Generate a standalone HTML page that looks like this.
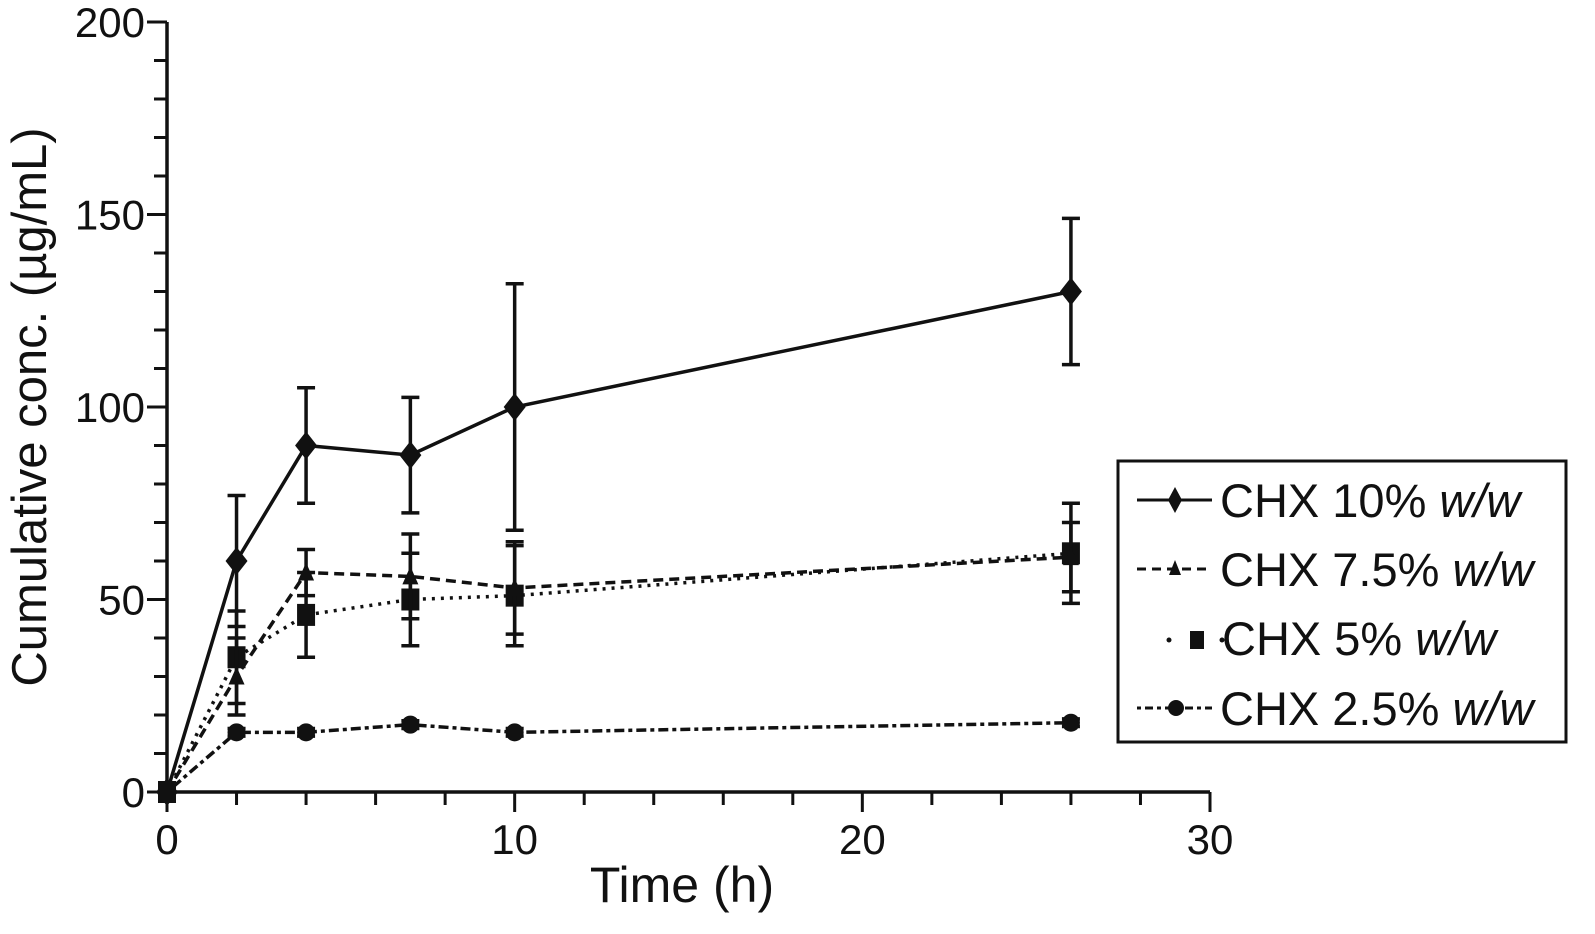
<!DOCTYPE html>
<html><head><meta charset="utf-8"><style>
html,body{margin:0;padding:0;background:#fff;}
svg text{font-family:"Liberation Sans",Arial,sans-serif;fill:#111;}
</style></head><body>
<svg id="chart" width="1595" height="929" viewBox="0 0 1595 929" xmlns="http://www.w3.org/2000/svg">
<g id="axes"></g>
<g id="series"></g>
<text x="682" y="902" font-size="50" text-anchor="middle">Time (h)</text>
<text transform="translate(46,407) rotate(-90)" font-size="49" text-anchor="middle">Cumulative conc. (µg/mL)</text>
<g>
<rect x="1118" y="461" width="448" height="281" fill="none" stroke="#111" stroke-width="3"/>
<g>
<line x1="1137" y1="500" x2="1212" y2="500" stroke="#111" stroke-width="3"/>
<path d="M1175 487 L1182 500 L1175 513 L1168 500Z" fill="#111"/>
<text x="1220" y="517" font-size="47">CHX 10% <tspan font-style="italic">w/w</tspan></text></g>
<g>
<line x1="1137" y1="569" x2="1212" y2="569" stroke="#111" stroke-width="3" stroke-dasharray="9,6"/>
<path d="M1175 560 L1181 575 L1169 575Z" fill="#111"/>
<text x="1220" y="586" font-size="47">CHX 7.5% <tspan font-style="italic">w/w</tspan></text></g>
<g>
<circle cx="1169" cy="640" r="2.5" fill="#111"/><circle cx="1222" cy="640" r="2.5" fill="#111"/>
<rect x="1190" y="631" width="14" height="18" fill="#111"/>
<text x="1222" y="655" font-size="47">CHX 5% <tspan font-style="italic">w/w</tspan></text></g>
<g>
<line x1="1137" y1="708" x2="1212" y2="708" stroke="#111" stroke-width="3" stroke-dasharray="4,4,8,4"/>
<circle cx="1176" cy="708" r="8" fill="#111"/>
<text x="1220" y="725" font-size="47">CHX 2.5% <tspan font-style="italic">w/w</tspan></text></g>
</g>
</svg>
<script>
const times = [0, 2, 4, 7, 10, 26];
const chx10 = [0, 60, 90, 87.5, 100, 130];
const chx10Err = [0, 17, 15, 15, 32, 19];
const chx75 = [0, 30, 57, 56, 53, 61];
const chx75Err = [0, 10, 6, 11, 12, 9];
const chx5 = [0, 35, 46, 50, 51, 62];
const chx5Err = [0, 12, 11, 12, 13, 13];
const chx25 = [0, 15.5, 15.5, 17.5, 15.5, 18];
const chx25Err = [0, 1, 1, 1, 1, 1];
const xTicks = [0, 10, 20, 30];
const yTicks = [0, 50, 100, 150, 200];

const NS = "http://www.w3.org/2000/svg";
const X0 = 167, X1 = 1210, Y0 = 792, Y1 = 22;
function xs(v){ return X0 + (v/30)*(X1-X0); }
function ys(v){ return Y0 - (v/200)*(Y0-Y1); }
function mk(tag, attrs, parent){
  const e = document.createElementNS(NS, tag);
  for (const k in attrs) e.setAttribute(k, attrs[k]);
  parent.appendChild(e); return e;
}
const axes = document.getElementById('axes');
const yAxis = mk('line', {x1:X0, y1:Y1, x2:X0, y2:Y0, stroke:'#111','stroke-width':3.5}, axes);


const xAxis = mk('line', {x1:X0, y1:Y0, x2:X1, y2:Y0, stroke:'#111','stroke-width':3.5}, axes);


for (let v=0; v<=30; v+=2){
  const major = v%10===0;
  mk('line', {x1:xs(v), y1:Y0, x2:xs(v), y2:Y0+(major?20:13), stroke:'#111','stroke-width':3}, axes);
}
for (let v=0; v<=200; v+=10){
  const major = v%50===0;
  mk('line', {x1:X0-(major?20:13), y1:ys(v), x2:X0, y2:ys(v), stroke:'#111','stroke-width':3}, axes);
}
xTicks.forEach(v=>{
  const t = mk('text', {x:xs(v), y:Y0+62, 'font-size':42, 'text-anchor':'middle'}, axes);
  
  
  t.textContent = v;
});
yTicks.forEach(v=>{
  const t = mk('text', {x:X0-22, y:ys(v)+15, 'font-size':42, 'text-anchor':'end'}, axes);
  
  
  t.textContent = v;
});

const sg = document.getElementById('series');
function drawSeries(name, vals, errs, dash, marker){
  const g = mk('g', {}, sg);
  
  
  vals.forEach((v,i)=>{
    if (!errs[i]) return;
    const x = xs(times[i]), yt = ys(v+errs[i]), yb = ys(v-errs[i]);
    mk('line', {x1:x, y1:yt, x2:x, y2:yb, stroke:'#111','stroke-width':3.5}, g);
    mk('line', {x1:x-9, y1:yt, x2:x+9, y2:yt, stroke:'#111','stroke-width':3.5}, g);
    mk('line', {x1:x-9, y1:yb, x2:x+9, y2:yb, stroke:'#111','stroke-width':3.5}, g);
  });
  const pts = vals.map((v,i)=>xs(times[i])+','+ys(v)).join(' ');
  const pl = mk('polyline', {points:pts, fill:'none', stroke:'#111','stroke-width':3.5}, g);
  if (dash) pl.setAttribute('stroke-dasharray', dash);
  vals.forEach((v,i)=>{
    const x = xs(times[i]), y = ys(v);
    let m;
    if (marker==='diamond') m = mk('path', {d:`M${x} ${y-14} L${x+11} ${y} L${x} ${y+14} L${x-11} ${y}Z`, fill:'#111'}, g);
    else if (marker==='triangle') m = mk('path', {d:`M${x} ${y-10} L${x+8} ${y+8} L${x-8} ${y+8}Z`, fill:'#111'}, g);
    else if (marker==='square') m = mk('rect', {x:x-9, y:y-11, width:18, height:22, fill:'#111'}, g);
    else m = mk('circle', {cx:x, cy:y, r:9, fill:'#111'}, g);
    
    
  });
}
drawSeries('series-chx-2-5', chx25, chx25Err, '4,4,10,4', 'circle');
drawSeries('series-chx-5', chx5, chx5Err, '3,6', 'square');
drawSeries('series-chx-7-5', chx75, chx75Err, '10,6', 'triangle');
drawSeries('series-chx-10', chx10, chx10Err, null, 'diamond');
</script>
</body></html>
